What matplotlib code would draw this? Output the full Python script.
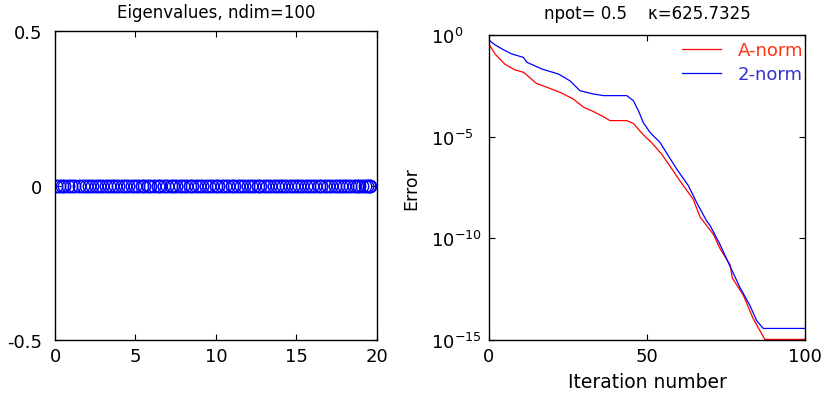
import numpy as np
import matplotlib
matplotlib.use("Agg")
import matplotlib.pyplot as plt
from matplotlib.ticker import FixedLocator, FixedFormatter

plt.rcParams['font.family'] = ['DejaVu Sans']
plt.rcParams['mathtext.fontset'] = 'dejavusans'

# Eigenvalues of the 100x100 test matrix (real part, imaginary part)
eig_real = [
    0.0313, 0.22, 0.41, 0.58, 0.83, 0.99, 1.20, 1.52, 1.74, 1.93,
    2.12, 2.28, 2.52, 2.74, 2.90, 3.14, 3.33, 3.52, 3.74, 3.90,
    4.16, 4.35, 4.52, 4.77, 4.98, 5.14, 5.38, 5.55, 5.78, 5.93,
    6.16, 6.38, 6.55, 6.77, 6.93, 7.19, 7.34, 7.54, 7.77, 7.95,
    8.15, 8.36, 8.53, 8.78, 8.95, 9.12, 9.36, 9.57, 9.74, 9.99,
    10.16, 10.38, 10.55, 10.78, 10.98, 11.15, 11.39, 11.56, 11.76, 11.98,
    12.18, 12.36, 12.60, 12.77, 12.97, 13.19, 13.37, 13.58, 13.80, 13.96,
    14.19, 14.38, 14.58, 14.79, 14.98, 15.17, 15.38, 15.59, 15.76, 15.98,
    16.17, 16.38, 16.56, 16.78, 16.97, 17.16, 17.37, 17.58, 17.76, 17.97,
    18.16, 18.36, 18.55, 18.74, 18.92, 19.08, 19.24, 19.38, 19.50, 19.60,
]
eig_imag = [0.0] * len(eig_real)

# Convergence history: iteration number and log10 of the error
a_iter = [0, 2, 5, 8, 11, 15, 18, 22.5, 26.7, 30, 33, 36, 38.3, 43.6, 45.7,
          48.8, 51.5, 54.6, 57.5, 60.4, 64.6, 66.8, 71, 73.1, 76.3, 77.0,
          80.5, 83.6, 87.3, 100]
a_log = [-0.45, -0.95, -1.43, -1.70, -1.84, -2.38, -2.55, -2.82, -3.15, -3.56,
         -3.76, -4.0, -4.21, -4.21, -4.35, -4.90, -5.30, -5.85, -6.50, -7.17,
         -8.07, -8.95, -9.80, -10.50, -11.30, -11.95, -12.80, -13.95, -14.97,
         -14.97]

b_iter = [0, 1.9, 4.5, 7.2, 10.9, 12, 16.7, 22, 25.6, 28.8, 33, 36.2, 43.6,
          45.7, 47.5, 48.8, 51, 54.1, 56.8, 59.4, 63.1, 65.7, 68.9, 70, 73.1,
          75.7, 79.4, 82.6, 84.7, 86.8, 100]
b_log = [-0.25, -0.48, -0.72, -0.93, -1.10, -1.34, -1.67, -1.92, -2.25, -2.74,
         -2.90, -2.98, -2.98, -3.23, -3.80, -4.30, -4.80, -5.28, -5.95, -6.59,
         -7.41, -8.23, -9.15, -9.38, -10.30, -11.18, -12.41, -13.31, -14.05,
         -14.43, -14.43]

npot = 0.5
kappa = 625.7325

fig = plt.figure(figsize=(8.21, 4.02), dpi=100)

# Eigenvalue plot
ax1 = fig.add_axes([0.067, 0.1517, 0.392, 0.768])
ax1.plot(eig_real, eig_imag, 'o', mfc='none', mec='#0000ff', ms=9, mew=1.0)
ax1.set_xlim(0, 20)
ax1.set_ylim(-0.5, 0.5)
ax1.set_xticks([0, 5, 10, 15, 20])
ax1.set_yticks([-0.5, 0, 0.5])
ax1.set_yticklabels(['-0.5', '0', '0.5'])
ax1.set_title('Eigenvalues, ndim=100', fontsize=12, pad=10)

# Convergence plot
ax2 = fig.add_axes([0.5956, 0.1517, 0.3849, 0.7587])
a_err = 10.0 ** np.array(a_log)
b_err = 10.0 ** np.array(b_log)
ax2.semilogy(a_iter, a_err, color='#ff0000', lw=0.9, label='A-norm')
ax2.semilogy(b_iter, b_err, color='#0000ff', lw=0.9, label='2-norm')
ax2.set_xlim(0, 100)
ax2.set_ylim(1e-15, 1e0)
ax2.set_xticks([0, 50, 100])
ax2.yaxis.set_major_locator(FixedLocator([1e-15, 1e-10, 1e-5, 1e0]))
ax2.yaxis.set_major_formatter(FixedFormatter(
    [r'$10^{-15}$', r'$10^{-10}$', r'$10^{-5}$', r'$10^{0}$']))
ax2.yaxis.set_minor_locator(FixedLocator([]))
ax2.set_xlabel('Iteration number', fontsize=13.5, labelpad=5)
ax2.set_ylabel('Error', fontsize=12.5)
ax2.yaxis.set_label_coords(-0.218, 0.5)
ax2.set_title('npot= %g    \u03ba=%.4f' % (npot, kappa), fontsize=12, pad=12)
leg = ax2.legend(loc='upper right', bbox_to_anchor=(1.0, 0.985),
                 frameon=False, fontsize=13,
                 handlelength=2.2, borderaxespad=0.0, borderpad=0.1,
                 labelspacing=0.32, handletextpad=0.9)
for txt, c in zip(leg.get_texts(), ['#ff3311', '#3333cc']):
    txt.set_color(c)

for ax in (ax1, ax2):
    ax.tick_params(direction='in', length=4, width=0.8, top=True, right=True,
                   labelsize=13, pad=5)
    for s in ax.spines.values():
        s.set_linewidth(1.0)
ax1.tick_params(axis='y', pad=9)

# log-axis labels: the "10" bases line up on the left
ax2.tick_params(axis='y', pad=42)
for lbl in ax2.get_yticklabels():
    lbl.set_horizontalalignment('left')

fig.savefig('out.png', dpi=100)
